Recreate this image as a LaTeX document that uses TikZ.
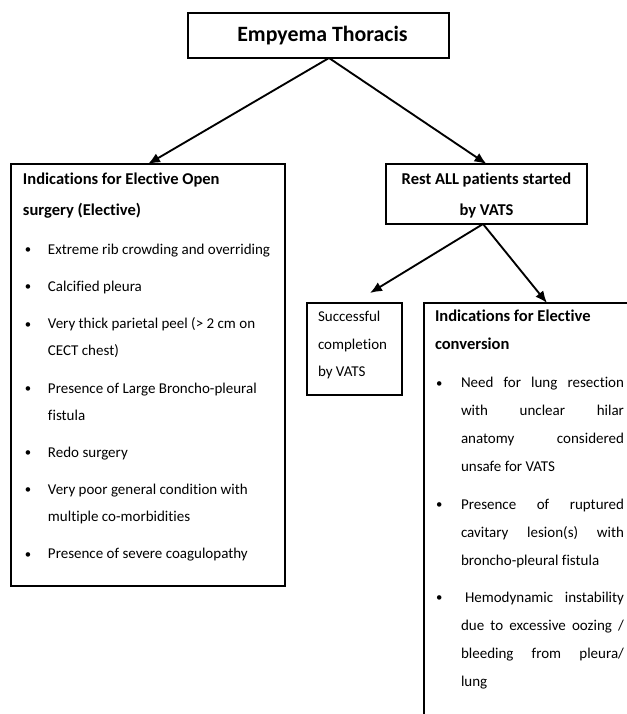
\documentclass[tikz,border=0pt]{standalone}
\usepackage{fontspec}
\setmainfont{Carlito}[Ligatures=NoCommon]
\usetikzlibrary{arrows.meta}
\newcommand\titlefnt{\fontsize{16.4pt}{19pt}\selectfont\bfseries}
\newcommand\headfnt{\fontsize{12.4pt}{23.25pt}\selectfont\bfseries}
\newcommand\bodyfnt{\normalfont\fontsize{11.25pt}{20.25pt}\selectfont}
\newcommand\nl{\hfil\break}
\newcommand\bul{\raisebox{0.5pt}{\scalebox{0.85}{\textbullet}}}
% left box item: bullet offset 1.5pt, text indent 18.75pt
\newcommand\Litem[2][7.7pt]{\par\vspace{#1}\hangindent=18.75pt\hangafter=1\noindent\makebox[18.75pt][l]{\hspace{1.5pt}\bul}#2\par}
% right box item: bullet offset 0.75pt, text indent 19.5pt
\newcommand\Ritem[2][7pt]{\par\vspace{#1}\hangindent=19.5pt\hangafter=1\noindent\makebox[19.5pt][l]{\hspace{0.75pt}\bul}#2\par}
\begin{document}
\begin{tikzpicture}[x=0.75pt,y=-0.75pt,
  box/.style={draw,line width=1.2pt,inner sep=0pt,outer sep=0pt,anchor=north west},
  arr/.style={line width=1.4pt,-{Latex[length=9pt,width=7.5pt]}}]
\useasboundingbox (0,0) rectangle (627,714);
\clip (0,0) rectangle (627,714);

\node[box,minimum width=195.75pt,minimum height=33.75pt] (title) at (188,13)
  {\titlefnt\hspace{6pt}Empyema Thoracis};

\node[box] (open) at (11,164) {\parbox[c][316.5pt][t]{205.5pt}{%
  \raggedright\leftskip=9pt\hyphenpenalty=10000
  \headfnt\rule{0pt}{15pt}Indications for Elective Open\par
  surgery (Elective)\par
  \bodyfnt
  \Litem[9.2pt]{Extreme rib crowding and overriding}
  \Litem{Calcified pleura}
  \Litem{Very thick parietal peel (> 2 cm on\nl CECT chest)}
  \Litem{Presence of Large Broncho-pleural\nl fistula}
  \Litem{Redo surgery}
  \Litem{Very poor general condition with\nl multiple co-morbidities}
  \Litem{Presence of severe coagulopathy}
}};

\node[box] (rest) at (386,164) {\parbox[c][45pt][t]{150.75pt}{%
  \centering\headfnt\rule{0pt}{15.6pt}Rest ALL patients started\\by VATS}};

\node[box] (succ) at (307,303) {\parbox[c][69pt][t]{71.25pt}{%
  \raggedright\leftskip=8.25pt\bodyfnt\baselineskip=20.6pt
  \rule{0pt}{13.9pt}Successful\\completion\\by VATS}};

\node[box] (conv) at (424,303) {\parbox[c][320.25pt][t]{169.5pt}{%
  \leftskip=8.25pt\rightskip=19.5pt\hyphenpenalty=10000\tolerance=10000
  \fontsize{12.4pt}{21pt}\selectfont\bfseries\rule{0pt}{14.1pt}Indications for Elective\par
  conversion\par
  \bodyfnt\baselineskip=21pt
  \Ritem[7.6pt]{Need for lung resection\linebreak with unclear hilar\linebreak anatomy considered\linebreak unsafe for VATS}
  \Ritem{Presence of ruptured\linebreak cavitary lesion(s) with\linebreak broncho-pleural fistula}
  \Ritem{\hspace{3pt}Hemodynamic instability\linebreak due to excessive oozing /\linebreak bleeding from pleura/\linebreak lung}
}};

\coordinate (split) at (329,58);
\draw[arr] (split) -- (open.north);
\draw[arr] (split) -- (rest.north);

\coordinate (succtip) at (370,293);
\draw[arr] ([xshift=-2.6pt]rest.south) -- (succtip);
\draw[arr] ([xshift=-2.6pt]rest.south) -- ([xshift=7.5pt]conv.north);
\end{tikzpicture}
\end{document}
